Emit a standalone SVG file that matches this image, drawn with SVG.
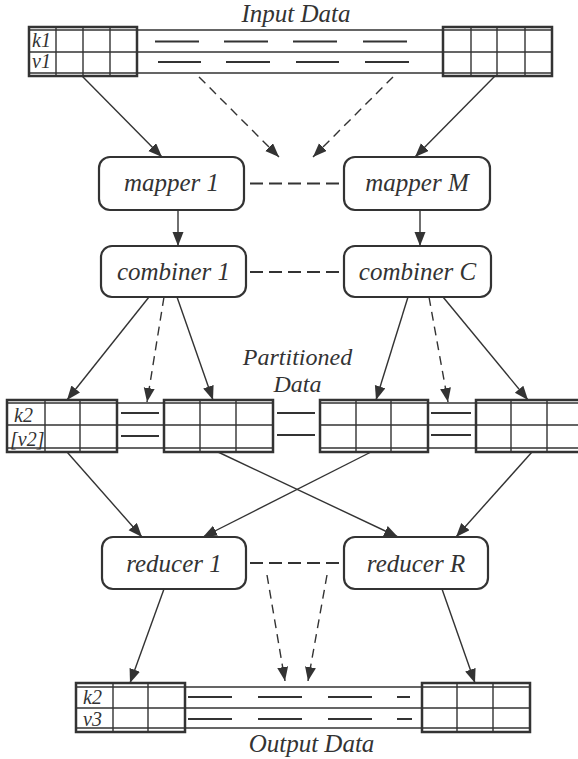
<svg xmlns="http://www.w3.org/2000/svg" width="578" height="759" viewBox="0 0 578 759">
<defs>
<marker id="ah" markerUnits="userSpaceOnUse" markerWidth="15" markerHeight="12" refX="14" refY="5.5" orient="auto">
<path d="M0,0 L14,5.5 L0,11 z" fill="#333"/>
</marker>
<style>
.t{font-family:"Liberation Serif","Times New Roman",serif;font-style:italic;fill:#333}
.lbl{font-size:25px;text-anchor:middle}
.lbl2{font-size:24px;text-anchor:middle}
.cell{font-size:20px}
.node rect{fill:#fff;stroke:#333;stroke-width:2.2}
.box{fill:none;stroke:#333;stroke-width:2.5}
.grid{stroke:#333;stroke-width:1.4;fill:none}
.bd{stroke:#333;stroke-width:2.2;fill:none}
.conn{stroke:#333;stroke-width:1.4;fill:none}
.arr{marker-end:url(#ah)}
.dash{stroke-dasharray:9 6}
.hd{stroke:#333;stroke-width:2;stroke-dasharray:13 6;fill:none}
</style>
</defs>
<rect width="578" height="759" fill="#fff"/>

<g id="input-data">
<text class="t lbl" x="296" y="22">Input Data</text>
<path class="grid" d="M29,30H552M29,52H552M29,73H552M56,27V76M83,27V76M110,27V76M471,27V76M497,27V76M525,27V76"/>
<rect class="box" x="29" y="27" width="108" height="49"/>
<rect class="box" x="443" y="27" width="109" height="49"/>
<path class="bd" d="M155,41.5H199M224,41.5H268M293,41.5H337M363,41.5H407M158,62H201M226,62H270M296,62H339M365,62H409"/>
<text class="t cell" x="32" y="47">k1</text>
<text class="t cell" x="32" y="68">v1</text>
</g>

<g id="mapper-1" class="node">
<rect x="99" y="157" width="145" height="53" rx="11"/>
<text class="t lbl" x="171.5" y="191">mapper 1</text>
</g>
<g id="mapper-M" class="node">
<rect x="344" y="157" width="146" height="53" rx="11"/>
<text class="t lbl" x="417" y="191">mapper M</text>
</g>
<g id="combiner-1" class="node">
<rect x="101" y="246" width="145" height="51" rx="11"/>
<text class="t lbl" x="173.5" y="280">combiner 1</text>
</g>
<g id="combiner-C" class="node">
<rect x="344" y="246" width="147" height="51" rx="11"/>
<text class="t lbl" x="417.5" y="280">combiner C</text>
</g>

<g id="partitioned-data">
<text class="t lbl2" x="297.5" y="365">Partitioned</text>
<text class="t lbl2" x="297.5" y="392">Data</text>
<path class="grid" d="M7,403H273M7,425H273M7,448H273M320,403H584M320,425H584M320,448H584M45,400V452M80,400V452M200,400V452M236,400V452M356,400V452M391,400V452M511,400V452M547,400V452"/>
<rect class="box" x="7" y="400" width="110" height="52"/>
<rect class="box" x="164" y="400" width="109" height="52"/>
<rect class="box" x="320" y="400" width="108" height="52"/>
<rect class="box" x="476" y="400" width="108" height="52"/>
<path class="bd" d="M121,413H159M121,436H159M277,413H315M277,435H315M431,413H471M431,435H471"/>
<text class="t cell" x="14" y="422">k2</text>
<text class="t cell" x="10" y="446">[v2]</text>
</g>

<g id="reducer-1" class="node">
<rect x="102" y="537" width="144" height="52" rx="11"/>
<text class="t lbl" x="174" y="572">reducer 1</text>
</g>
<g id="reducer-R" class="node">
<rect x="344" y="537" width="144" height="52" rx="11"/>
<text class="t lbl" x="416" y="572">reducer R</text>
</g>

<g id="output-data">
<path class="grid" d="M76,687H530M76,708H530M76,728H530M113,683V732M148,683V732M457,683V732M493,683V732"/>
<rect class="box" x="76" y="683" width="109" height="49"/>
<rect class="box" x="422" y="683" width="108" height="49"/>
<path class="bd" d="M188,697H232M258,697H302M328,697H372M397,697H410M188,719H232M258,719H302M328,719H372M397,719H412"/>
<text class="t cell" x="83" y="704">k2</text>
<text class="t cell" x="83" y="726">v3</text>
<text class="t lbl" x="311.5" y="752">Output Data</text>
</g>

<g id="connectors">
<path class="conn arr" d="M82,76L162,157"/>
<path class="conn arr" d="M495,76L415,157"/>
<path class="conn arr dash" d="M199,77L279,157"/>
<path class="conn arr dash" d="M393,77L313,157"/>
<path class="hd" d="M250,183.5H342"/>
<path class="conn arr" d="M178,210V246"/>
<path class="conn arr" d="M420,210V246"/>
<path class="hd" d="M250,272H342"/>
<path class="conn arr" d="M149,297L67,400"/>
<path class="conn arr dash" d="M164,297L147,402"/>
<path class="conn arr" d="M177,297L213,400"/>
<path class="conn arr" d="M408,297L376,400"/>
<path class="conn arr dash" d="M429,297L448,402"/>
<path class="conn arr" d="M443,297L528,400"/>
<path class="conn arr" d="M67,452L142,537"/>
<path class="conn arr" d="M371,452L203,537"/>
<path class="conn arr" d="M218,452L398,537"/>
<path class="conn arr" d="M532,452L456,537"/>
<path class="hd" d="M250,563H342"/>
<path class="conn arr" d="M164,589L130,683"/>
<path class="conn arr" d="M442,589L475,683"/>
<path class="conn arr dash" d="M267,575L285,681"/>
<path class="conn arr dash" d="M327,575L308,681"/>
</g>
</svg>
